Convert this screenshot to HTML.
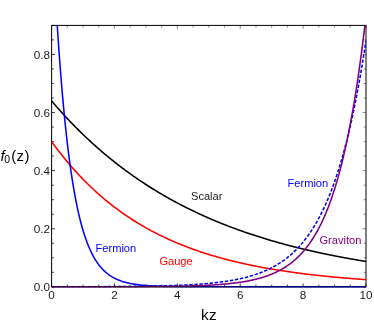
<!DOCTYPE html>
<html><head><meta charset="utf-8"><style>
html,body{margin:0;padding:0;background:#fff;}
svg{display:block;will-change:transform;}
text{font-family:"Liberation Sans",sans-serif;}
</style></head><body>
<svg width="374" height="325" viewBox="0 0 374 325">
<rect width="374" height="325" fill="#fff"/>
<defs><clipPath id="c"><rect x="51.6" y="25.4" width="314.4" height="262.20000000000005"/></clipPath></defs>
<g stroke="#000" stroke-width="0.45" fill="none">
<line x1="51.60" y1="25.4" x2="51.60" y2="28.799999999999997"/><line x1="67.32" y1="25.4" x2="67.32" y2="27.599999999999998"/><line x1="83.04" y1="25.4" x2="83.04" y2="27.599999999999998"/><line x1="98.76" y1="25.4" x2="98.76" y2="27.599999999999998"/><line x1="114.48" y1="25.4" x2="114.48" y2="28.799999999999997"/><line x1="130.20" y1="25.4" x2="130.20" y2="27.599999999999998"/><line x1="145.92" y1="25.4" x2="145.92" y2="27.599999999999998"/><line x1="161.64" y1="25.4" x2="161.64" y2="27.599999999999998"/><line x1="177.36" y1="25.4" x2="177.36" y2="28.799999999999997"/><line x1="193.08" y1="25.4" x2="193.08" y2="27.599999999999998"/><line x1="208.80" y1="25.4" x2="208.80" y2="27.599999999999998"/><line x1="224.52" y1="25.4" x2="224.52" y2="27.599999999999998"/><line x1="240.24" y1="25.4" x2="240.24" y2="28.799999999999997"/><line x1="255.96" y1="25.4" x2="255.96" y2="27.599999999999998"/><line x1="271.68" y1="25.4" x2="271.68" y2="27.599999999999998"/><line x1="287.40" y1="25.4" x2="287.40" y2="27.599999999999998"/><line x1="303.12" y1="25.4" x2="303.12" y2="28.799999999999997"/><line x1="318.84" y1="25.4" x2="318.84" y2="27.599999999999998"/><line x1="334.56" y1="25.4" x2="334.56" y2="27.599999999999998"/><line x1="350.28" y1="25.4" x2="350.28" y2="27.599999999999998"/><line x1="366.00" y1="25.4" x2="366.00" y2="28.799999999999997"/><line x1="366.0" y1="286.85" x2="362.6" y2="286.85"/><line x1="366.0" y1="272.33" x2="363.8" y2="272.33"/><line x1="366.0" y1="257.80" x2="363.8" y2="257.80"/><line x1="366.0" y1="243.28" x2="363.8" y2="243.28"/><line x1="366.0" y1="228.75" x2="362.6" y2="228.75"/><line x1="366.0" y1="214.23" x2="363.8" y2="214.23"/><line x1="366.0" y1="199.70" x2="363.8" y2="199.70"/><line x1="366.0" y1="185.18" x2="363.8" y2="185.18"/><line x1="366.0" y1="170.65" x2="362.6" y2="170.65"/><line x1="366.0" y1="156.12" x2="363.8" y2="156.12"/><line x1="366.0" y1="141.60" x2="363.8" y2="141.60"/><line x1="366.0" y1="127.07" x2="363.8" y2="127.07"/><line x1="366.0" y1="112.55" x2="362.6" y2="112.55"/><line x1="366.0" y1="98.03" x2="363.8" y2="98.03"/><line x1="366.0" y1="83.50" x2="363.8" y2="83.50"/><line x1="366.0" y1="68.97" x2="363.8" y2="68.97"/><line x1="366.0" y1="54.45" x2="362.6" y2="54.45"/><line x1="366.0" y1="39.92" x2="363.8" y2="39.92"/><line x1="366.0" y1="25.40" x2="363.8" y2="25.40"/>
</g>
<g stroke="#000" stroke-width="0.75" fill="none">
<line x1="51.60" y1="286.85" x2="51.60" y2="283.45000000000005"/><line x1="67.32" y1="286.85" x2="67.32" y2="284.65000000000003"/><line x1="83.04" y1="286.85" x2="83.04" y2="284.65000000000003"/><line x1="98.76" y1="286.85" x2="98.76" y2="284.65000000000003"/><line x1="114.48" y1="286.85" x2="114.48" y2="283.45000000000005"/><line x1="130.20" y1="286.85" x2="130.20" y2="284.65000000000003"/><line x1="145.92" y1="286.85" x2="145.92" y2="284.65000000000003"/><line x1="161.64" y1="286.85" x2="161.64" y2="284.65000000000003"/><line x1="177.36" y1="286.85" x2="177.36" y2="283.45000000000005"/><line x1="193.08" y1="286.85" x2="193.08" y2="284.65000000000003"/><line x1="208.80" y1="286.85" x2="208.80" y2="284.65000000000003"/><line x1="224.52" y1="286.85" x2="224.52" y2="284.65000000000003"/><line x1="240.24" y1="286.85" x2="240.24" y2="283.45000000000005"/><line x1="255.96" y1="286.85" x2="255.96" y2="284.65000000000003"/><line x1="271.68" y1="286.85" x2="271.68" y2="284.65000000000003"/><line x1="287.40" y1="286.85" x2="287.40" y2="284.65000000000003"/><line x1="303.12" y1="286.85" x2="303.12" y2="283.45000000000005"/><line x1="318.84" y1="286.85" x2="318.84" y2="284.65000000000003"/><line x1="334.56" y1="286.85" x2="334.56" y2="284.65000000000003"/><line x1="350.28" y1="286.85" x2="350.28" y2="284.65000000000003"/><line x1="366.00" y1="286.85" x2="366.00" y2="283.45000000000005"/><line x1="51.6" y1="286.85" x2="55.0" y2="286.85"/><line x1="51.6" y1="272.33" x2="53.800000000000004" y2="272.33"/><line x1="51.6" y1="257.80" x2="53.800000000000004" y2="257.80"/><line x1="51.6" y1="243.28" x2="53.800000000000004" y2="243.28"/><line x1="51.6" y1="228.75" x2="55.0" y2="228.75"/><line x1="51.6" y1="214.23" x2="53.800000000000004" y2="214.23"/><line x1="51.6" y1="199.70" x2="53.800000000000004" y2="199.70"/><line x1="51.6" y1="185.18" x2="53.800000000000004" y2="185.18"/><line x1="51.6" y1="170.65" x2="55.0" y2="170.65"/><line x1="51.6" y1="156.12" x2="53.800000000000004" y2="156.12"/><line x1="51.6" y1="141.60" x2="53.800000000000004" y2="141.60"/><line x1="51.6" y1="127.07" x2="53.800000000000004" y2="127.07"/><line x1="51.6" y1="112.55" x2="55.0" y2="112.55"/><line x1="51.6" y1="98.03" x2="53.800000000000004" y2="98.03"/><line x1="51.6" y1="83.50" x2="53.800000000000004" y2="83.50"/><line x1="51.6" y1="68.97" x2="53.800000000000004" y2="68.97"/><line x1="51.6" y1="54.45" x2="55.0" y2="54.45"/><line x1="51.6" y1="39.92" x2="53.800000000000004" y2="39.92"/><line x1="51.6" y1="25.40" x2="53.800000000000004" y2="25.40"/>
</g>
<rect x="51.6" y="25.4" width="314.4" height="261.45000000000005" fill="none" stroke="#000" stroke-width="1.0"/>
<g clip-path="url(#c)" fill="none" stroke-width="1.55" stroke-linejoin="round">
<path d="M51.60 100.93 L52.39 101.85 L53.17 102.77 L53.96 103.68 L54.74 104.59 L55.53 105.50 L56.32 106.40 L57.10 107.29 L57.89 108.18 L58.67 109.07 L59.46 109.95 L60.25 110.83 L61.03 111.70 L61.82 112.57 L62.60 113.44 L63.39 114.30 L64.18 115.16 L64.96 116.01 L65.75 116.86 L66.53 117.70 L67.32 118.54 L68.11 119.37 L68.89 120.20 L69.68 121.03 L70.46 121.85 L71.25 122.67 L72.04 123.49 L72.82 124.30 L73.61 125.11 L74.39 125.91 L75.18 126.71 L75.97 127.50 L76.75 128.29 L77.54 129.08 L78.32 129.86 L79.11 130.64 L79.90 131.42 L80.68 132.19 L81.47 132.96 L82.25 133.72 L83.04 134.48 L83.83 135.24 L84.61 135.99 L85.40 136.74 L86.18 137.48 L86.97 138.22 L87.76 138.96 L88.54 139.69 L89.33 140.42 L90.11 141.15 L90.90 141.87 L91.69 142.59 L92.47 143.31 L93.26 144.02 L94.04 144.73 L94.83 145.44 L95.62 146.14 L96.40 146.84 L97.19 147.53 L97.97 148.22 L98.76 148.91 L99.55 149.59 L100.33 150.28 L101.12 150.95 L101.90 151.63 L102.69 152.30 L103.48 152.97 L104.26 153.63 L105.05 154.29 L105.83 154.95 L106.62 155.60 L107.41 156.26 L108.19 156.90 L108.98 157.55 L109.76 158.19 L110.55 158.83 L111.34 159.46 L112.12 160.10 L112.91 160.73 L113.69 161.35 L114.48 161.97 L115.27 162.59 L116.05 163.21 L116.84 163.82 L117.62 164.44 L118.41 165.04 L119.20 165.65 L119.98 166.25 L120.77 166.85 L121.55 167.44 L122.34 168.04 L123.13 168.62 L123.91 169.21 L124.70 169.80 L125.48 170.38 L126.27 170.95 L127.06 171.53 L127.84 172.10 L128.63 172.67 L129.41 173.24 L130.20 173.80 L130.99 174.36 L131.77 174.92 L132.56 175.48 L133.34 176.03 L134.13 176.58 L134.92 177.13 L135.70 177.67 L136.49 178.21 L137.27 178.75 L138.06 179.29 L138.85 179.82 L139.63 180.35 L140.42 180.88 L141.20 181.41 L141.99 181.93 L142.78 182.45 L143.56 182.97 L144.35 183.48 L145.13 184.00 L145.92 184.51 L146.71 185.02 L147.49 185.52 L148.28 186.02 L149.06 186.52 L149.85 187.02 L150.64 187.52 L151.42 188.01 L152.21 188.50 L152.99 188.99 L153.78 189.48 L154.57 189.96 L155.35 190.44 L156.14 190.92 L156.92 191.39 L157.71 191.87 L158.50 192.34 L159.28 192.81 L160.07 193.27 L160.85 193.74 L161.64 194.20 L162.43 194.66 L163.21 195.12 L164.00 195.57 L164.78 196.03 L165.57 196.48 L166.36 196.93 L167.14 197.37 L167.93 197.82 L168.71 198.26 L169.50 198.70 L170.29 199.14 L171.07 199.57 L171.86 200.00 L172.64 200.43 L173.43 200.86 L174.22 201.29 L175.00 201.71 L175.79 202.14 L176.57 202.56 L177.36 202.98 L178.15 203.39 L178.93 203.81 L179.72 204.22 L180.50 204.63 L181.29 205.04 L182.08 205.44 L182.86 205.85 L183.65 206.25 L184.43 206.65 L185.22 207.05 L186.01 207.44 L186.79 207.84 L187.58 208.23 L188.36 208.62 L189.15 209.01 L189.94 209.39 L190.72 209.78 L191.51 210.16 L192.29 210.54 L193.08 210.92 L193.87 211.30 L194.65 211.67 L195.44 212.04 L196.22 212.42 L197.01 212.79 L197.80 213.15 L198.58 213.52 L199.37 213.88 L200.15 214.24 L200.94 214.60 L201.73 214.96 L202.51 215.32 L203.30 215.68 L204.08 216.03 L204.87 216.38 L205.66 216.73 L206.44 217.08 L207.23 217.42 L208.01 217.77 L208.80 218.11 L209.59 218.45 L210.37 218.79 L211.16 219.13 L211.94 219.47 L212.73 219.80 L213.52 220.13 L214.30 220.46 L215.09 220.79 L215.87 221.12 L216.66 221.45 L217.45 221.77 L218.23 222.09 L219.02 222.42 L219.80 222.74 L220.59 223.05 L221.38 223.37 L222.16 223.69 L222.95 224.00 L223.73 224.31 L224.52 224.62 L225.31 224.93 L226.09 225.24 L226.88 225.54 L227.66 225.85 L228.45 226.15 L229.24 226.45 L230.02 226.75 L230.81 227.05 L231.59 227.35 L232.38 227.64 L233.17 227.94 L233.95 228.23 L234.74 228.52 L235.52 228.81 L236.31 229.10 L237.10 229.38 L237.88 229.67 L238.67 229.95 L239.45 230.23 L240.24 230.51 L241.03 230.79 L241.81 231.07 L242.60 231.35 L243.38 231.62 L244.17 231.90 L244.96 232.17 L245.74 232.44 L246.53 232.71 L247.31 232.98 L248.10 233.25 L248.89 233.52 L249.67 233.78 L250.46 234.04 L251.24 234.31 L252.03 234.57 L252.82 234.83 L253.60 235.08 L254.39 235.34 L255.17 235.60 L255.96 235.85 L256.75 236.10 L257.53 236.36 L258.32 236.61 L259.10 236.86 L259.89 237.10 L260.68 237.35 L261.46 237.60 L262.25 237.84 L263.03 238.08 L263.82 238.33 L264.61 238.57 L265.39 238.81 L266.18 239.04 L266.96 239.28 L267.75 239.52 L268.54 239.75 L269.32 239.99 L270.11 240.22 L270.89 240.45 L271.68 240.68 L272.47 240.91 L273.25 241.14 L274.04 241.36 L274.82 241.59 L275.61 241.81 L276.40 242.04 L277.18 242.26 L277.97 242.48 L278.75 242.70 L279.54 242.92 L280.33 243.14 L281.11 243.36 L281.90 243.57 L282.68 243.79 L283.47 244.00 L284.26 244.21 L285.04 244.42 L285.83 244.64 L286.61 244.84 L287.40 245.05 L288.19 245.26 L288.97 245.47 L289.76 245.67 L290.54 245.88 L291.33 246.08 L292.12 246.28 L292.90 246.48 L293.69 246.68 L294.47 246.88 L295.26 247.08 L296.05 247.28 L296.83 247.48 L297.62 247.67 L298.40 247.87 L299.19 248.06 L299.98 248.25 L300.76 248.44 L301.55 248.63 L302.33 248.82 L303.12 249.01 L303.91 249.20 L304.69 249.39 L305.48 249.57 L306.26 249.76 L307.05 249.94 L307.84 250.12 L308.62 250.31 L309.41 250.49 L310.19 250.67 L310.98 250.85 L311.77 251.03 L312.55 251.20 L313.34 251.38 L314.12 251.56 L314.91 251.73 L315.70 251.91 L316.48 252.08 L317.27 252.25 L318.05 252.42 L318.84 252.60 L319.63 252.77 L320.41 252.93 L321.20 253.10 L321.98 253.27 L322.77 253.44 L323.56 253.60 L324.34 253.77 L325.13 253.93 L325.91 254.10 L326.70 254.26 L327.49 254.42 L328.27 254.58 L329.06 254.74 L329.84 254.90 L330.63 255.06 L331.42 255.22 L332.20 255.37 L332.99 255.53 L333.77 255.69 L334.56 255.84 L335.35 255.99 L336.13 256.15 L336.92 256.30 L337.70 256.45 L338.49 256.60 L339.28 256.75 L340.06 256.90 L340.85 257.05 L341.63 257.20 L342.42 257.34 L343.21 257.49 L343.99 257.64 L344.78 257.78 L345.56 257.93 L346.35 258.07 L347.14 258.21 L347.92 258.35 L348.71 258.50 L349.49 258.64 L350.28 258.78 L351.07 258.92 L351.85 259.05 L352.64 259.19 L353.42 259.33 L354.21 259.47 L355.00 259.60 L355.78 259.74 L356.57 259.87 L357.35 260.01 L358.14 260.14 L358.93 260.27 L359.71 260.40 L360.50 260.53 L361.28 260.67 L362.07 260.80 L362.86 260.92 L363.64 261.05 L364.43 261.18 L365.21 261.31 L366.00 261.44" stroke="#000"/>
<path d="M51.60 141.60 L52.39 142.69 L53.17 143.76 L53.96 144.83 L54.74 145.89 L55.53 146.95 L56.32 147.99 L57.10 149.03 L57.89 150.06 L58.67 151.08 L59.46 152.10 L60.25 153.10 L61.03 154.10 L61.82 155.09 L62.60 156.08 L63.39 157.05 L64.18 158.02 L64.96 158.99 L65.75 159.94 L66.53 160.89 L67.32 161.83 L68.11 162.77 L68.89 163.69 L69.68 164.61 L70.46 165.53 L71.25 166.43 L72.04 167.33 L72.82 168.23 L73.61 169.11 L74.39 169.99 L75.18 170.87 L75.97 171.73 L76.75 172.59 L77.54 173.45 L78.32 174.29 L79.11 175.13 L79.90 175.97 L80.68 176.80 L81.47 177.62 L82.25 178.44 L83.04 179.25 L83.83 180.05 L84.61 180.85 L85.40 181.64 L86.18 182.43 L86.97 183.21 L87.76 183.98 L88.54 184.75 L89.33 185.51 L90.11 186.27 L90.90 187.02 L91.69 187.77 L92.47 188.51 L93.26 189.24 L94.04 189.97 L94.83 190.70 L95.62 191.41 L96.40 192.13 L97.19 192.83 L97.97 193.54 L98.76 194.23 L99.55 194.93 L100.33 195.61 L101.12 196.30 L101.90 196.97 L102.69 197.64 L103.48 198.31 L104.26 198.97 L105.05 199.63 L105.83 200.28 L106.62 200.93 L107.41 201.57 L108.19 202.21 L108.98 202.84 L109.76 203.47 L110.55 204.09 L111.34 204.71 L112.12 205.32 L112.91 205.93 L113.69 206.54 L114.48 207.14 L115.27 207.73 L116.05 208.32 L116.84 208.91 L117.62 209.49 L118.41 210.07 L119.20 210.64 L119.98 211.21 L120.77 211.78 L121.55 212.34 L122.34 212.90 L123.13 213.45 L123.91 214.00 L124.70 214.54 L125.48 215.08 L126.27 215.62 L127.06 216.15 L127.84 216.68 L128.63 217.20 L129.41 217.72 L130.20 218.24 L130.99 218.75 L131.77 219.26 L132.56 219.77 L133.34 220.27 L134.13 220.76 L134.92 221.26 L135.70 221.75 L136.49 222.23 L137.27 222.72 L138.06 223.20 L138.85 223.67 L139.63 224.14 L140.42 224.61 L141.20 225.08 L141.99 225.54 L142.78 226.00 L143.56 226.45 L144.35 226.90 L145.13 227.35 L145.92 227.80 L146.71 228.24 L147.49 228.67 L148.28 229.11 L149.06 229.54 L149.85 229.97 L150.64 230.39 L151.42 230.82 L152.21 231.23 L152.99 231.65 L153.78 232.06 L154.57 232.47 L155.35 232.88 L156.14 233.28 L156.92 233.68 L157.71 234.08 L158.50 234.47 L159.28 234.86 L160.07 235.25 L160.85 235.64 L161.64 236.02 L162.43 236.40 L163.21 236.78 L164.00 237.15 L164.78 237.52 L165.57 237.89 L166.36 238.26 L167.14 238.62 L167.93 238.98 L168.71 239.34 L169.50 239.69 L170.29 240.05 L171.07 240.40 L171.86 240.74 L172.64 241.09 L173.43 241.43 L174.22 241.77 L175.00 242.11 L175.79 242.44 L176.57 242.77 L177.36 243.10 L178.15 243.43 L178.93 243.75 L179.72 244.07 L180.50 244.39 L181.29 244.71 L182.08 245.03 L182.86 245.34 L183.65 245.65 L184.43 245.96 L185.22 246.26 L186.01 246.57 L186.79 246.87 L187.58 247.17 L188.36 247.46 L189.15 247.76 L189.94 248.05 L190.72 248.34 L191.51 248.63 L192.29 248.91 L193.08 249.20 L193.87 249.48 L194.65 249.76 L195.44 250.03 L196.22 250.31 L197.01 250.58 L197.80 250.85 L198.58 251.12 L199.37 251.39 L200.15 251.65 L200.94 251.92 L201.73 252.18 L202.51 252.44 L203.30 252.69 L204.08 252.95 L204.87 253.20 L205.66 253.45 L206.44 253.70 L207.23 253.95 L208.01 254.20 L208.80 254.44 L209.59 254.68 L210.37 254.92 L211.16 255.16 L211.94 255.40 L212.73 255.63 L213.52 255.87 L214.30 256.10 L215.09 256.33 L215.87 256.56 L216.66 256.78 L217.45 257.01 L218.23 257.23 L219.02 257.45 L219.80 257.67 L220.59 257.89 L221.38 258.11 L222.16 258.32 L222.95 258.53 L223.73 258.74 L224.52 258.95 L225.31 259.16 L226.09 259.37 L226.88 259.58 L227.66 259.78 L228.45 259.98 L229.24 260.18 L230.02 260.38 L230.81 260.58 L231.59 260.78 L232.38 260.97 L233.17 261.16 L233.95 261.36 L234.74 261.55 L235.52 261.74 L236.31 261.92 L237.10 262.11 L237.88 262.29 L238.67 262.48 L239.45 262.66 L240.24 262.84 L241.03 263.02 L241.81 263.20 L242.60 263.37 L243.38 263.55 L244.17 263.72 L244.96 263.90 L245.74 264.07 L246.53 264.24 L247.31 264.41 L248.10 264.58 L248.89 264.74 L249.67 264.91 L250.46 265.07 L251.24 265.23 L252.03 265.40 L252.82 265.56 L253.60 265.71 L254.39 265.87 L255.17 266.03 L255.96 266.18 L256.75 266.34 L257.53 266.49 L258.32 266.64 L259.10 266.80 L259.89 266.95 L260.68 267.09 L261.46 267.24 L262.25 267.39 L263.03 267.53 L263.82 267.68 L264.61 267.82 L265.39 267.96 L266.18 268.10 L266.96 268.24 L267.75 268.38 L268.54 268.52 L269.32 268.66 L270.11 268.79 L270.89 268.93 L271.68 269.06 L272.47 269.20 L273.25 269.33 L274.04 269.46 L274.82 269.59 L275.61 269.72 L276.40 269.85 L277.18 269.97 L277.97 270.10 L278.75 270.22 L279.54 270.35 L280.33 270.47 L281.11 270.59 L281.90 270.72 L282.68 270.84 L283.47 270.96 L284.26 271.07 L285.04 271.19 L285.83 271.31 L286.61 271.43 L287.40 271.54 L288.19 271.66 L288.97 271.77 L289.76 271.88 L290.54 271.99 L291.33 272.10 L292.12 272.21 L292.90 272.32 L293.69 272.43 L294.47 272.54 L295.26 272.65 L296.05 272.75 L296.83 272.86 L297.62 272.96 L298.40 273.07 L299.19 273.17 L299.98 273.27 L300.76 273.37 L301.55 273.47 L302.33 273.57 L303.12 273.67 L303.91 273.77 L304.69 273.87 L305.48 273.97 L306.26 274.06 L307.05 274.16 L307.84 274.25 L308.62 274.35 L309.41 274.44 L310.19 274.53 L310.98 274.63 L311.77 274.72 L312.55 274.81 L313.34 274.90 L314.12 274.99 L314.91 275.08 L315.70 275.16 L316.48 275.25 L317.27 275.34 L318.05 275.42 L318.84 275.51 L319.63 275.59 L320.41 275.68 L321.20 275.76 L321.98 275.84 L322.77 275.93 L323.56 276.01 L324.34 276.09 L325.13 276.17 L325.91 276.25 L326.70 276.33 L327.49 276.41 L328.27 276.48 L329.06 276.56 L329.84 276.64 L330.63 276.72 L331.42 276.79 L332.20 276.87 L332.99 276.94 L333.77 277.01 L334.56 277.09 L335.35 277.16 L336.13 277.23 L336.92 277.31 L337.70 277.38 L338.49 277.45 L339.28 277.52 L340.06 277.59 L340.85 277.66 L341.63 277.73 L342.42 277.79 L343.21 277.86 L343.99 277.93 L344.78 278.00 L345.56 278.06 L346.35 278.13 L347.14 278.19 L347.92 278.26 L348.71 278.32 L349.49 278.38 L350.28 278.45 L351.07 278.51 L351.85 278.57 L352.64 278.64 L353.42 278.70 L354.21 278.76 L355.00 278.82 L355.78 278.88 L356.57 278.94 L357.35 279.00 L358.14 279.06 L358.93 279.11 L359.71 279.17 L360.50 279.23 L361.28 279.29 L362.07 279.34 L362.86 279.40 L363.64 279.45 L364.43 279.51 L365.21 279.56 L366.00 279.62" stroke="#f00"/>
<path d="M51.60 -79.18 L52.39 -62.46 L53.17 -46.51 L53.96 -31.28 L54.74 -16.75 L55.53 -2.88 L56.32 10.35 L57.10 22.98 L57.89 35.03 L58.67 46.53 L59.46 57.51 L60.25 67.98 L61.03 77.98 L61.82 87.52 L62.60 96.62 L63.39 105.31 L64.18 113.60 L64.96 121.52 L65.75 129.07 L66.53 136.27 L67.32 143.15 L68.11 149.72 L68.89 155.98 L69.68 161.96 L70.46 167.66 L71.25 173.10 L72.04 178.30 L72.82 183.26 L73.61 187.99 L74.39 192.50 L75.18 196.81 L75.97 200.93 L76.75 204.85 L77.54 208.60 L78.32 212.17 L79.11 215.58 L79.90 218.84 L80.68 221.94 L81.47 224.91 L82.25 227.74 L83.04 230.44 L83.83 233.01 L84.61 235.47 L85.40 237.82 L86.18 240.06 L86.97 242.20 L87.76 244.23 L88.54 246.18 L89.33 248.04 L90.11 249.81 L90.90 251.50 L91.69 253.12 L92.47 254.66 L93.26 256.13 L94.04 257.53 L94.83 258.87 L95.62 260.15 L96.40 261.37 L97.19 262.53 L97.97 263.64 L98.76 264.70 L99.55 265.71 L100.33 266.68 L101.12 267.60 L101.90 268.48 L102.69 269.32 L103.48 270.12 L104.26 270.88 L105.05 271.61 L105.83 272.31 L106.62 272.97 L107.41 273.61 L108.19 274.21 L108.98 274.79 L109.76 275.34 L110.55 275.87 L111.34 276.37 L112.12 276.85 L112.91 277.30 L113.69 277.74 L114.48 278.16 L115.27 278.55 L116.05 278.93 L116.84 279.29 L117.62 279.64 L118.41 279.97 L119.20 280.28 L119.98 280.58 L120.77 280.87 L121.55 281.14 L122.34 281.40 L123.13 281.65 L123.91 281.89 L124.70 282.12 L125.48 282.33 L126.27 282.54 L127.06 282.73 L127.84 282.92 L128.63 283.10 L129.41 283.27 L130.20 283.44 L130.99 283.59 L131.77 283.74 L132.56 283.88 L133.34 284.02 L134.13 284.15 L134.92 284.27 L135.70 284.39 L136.49 284.50 L137.27 284.61 L138.06 284.71 L138.85 284.81 L139.63 284.90 L140.42 284.99 L141.20 285.08 L141.99 285.16 L142.78 285.23 L143.56 285.31 L144.35 285.38 L145.13 285.45 L145.92 285.51 L146.71 285.57 L147.49 285.63 L148.28 285.69 L149.06 285.74 L149.85 285.79 L150.64 285.84 L151.42 285.88 L152.21 285.93 L152.99 285.97 L153.78 286.01 L154.57 286.05 L155.35 286.09 L156.14 286.12 L156.92 286.15 L157.71 286.19 L158.50 286.22 L159.28 286.24 L160.07 286.27 L160.85 286.30 L161.64 286.32 L162.43 286.35 L163.21 286.37 L164.00 286.39 L164.78 286.41 L165.57 286.43 L166.36 286.45 L167.14 286.47 L167.93 286.49 L168.71 286.50 L169.50 286.52 L170.29 286.54 L171.07 286.55 L171.86 286.56 L172.64 286.58 L173.43 286.59 L174.22 286.60 L175.00 286.61 L175.79 286.62 L176.57 286.63 L177.36 286.64 L178.15 286.65 L178.93 286.66 L179.72 286.67 L180.50 286.68 L181.29 286.69 L182.08 286.69 L182.86 286.70 L183.65 286.71 L184.43 286.71 L185.22 286.72 L186.01 286.73 L186.79 286.73 L187.58 286.74 L188.36 286.74 L189.15 286.75 L189.94 286.75 L190.72 286.76 L191.51 286.76 L192.29 286.77 L193.08 286.77 L193.87 286.77 L194.65 286.78 L195.44 286.78 L196.22 286.78 L197.01 286.79 L197.80 286.79 L198.58 286.79 L199.37 286.79 L200.15 286.80 L200.94 286.80 L201.73 286.80 L202.51 286.80 L203.30 286.81 L204.08 286.81 L204.87 286.81 L205.66 286.81 L206.44 286.81 L207.23 286.82 L208.01 286.82 L208.80 286.82 L209.59 286.82 L210.37 286.82 L211.16 286.82 L211.94 286.82 L212.73 286.82 L213.52 286.83 L214.30 286.83 L215.09 286.83 L215.87 286.83 L216.66 286.83 L217.45 286.83 L218.23 286.83 L219.02 286.83 L219.80 286.83 L220.59 286.83 L221.38 286.83 L222.16 286.84 L222.95 286.84 L223.73 286.84 L224.52 286.84 L225.31 286.84 L226.09 286.84 L226.88 286.84 L227.66 286.84 L228.45 286.84 L229.24 286.84 L230.02 286.84 L230.81 286.84 L231.59 286.84 L232.38 286.84 L233.17 286.84 L233.95 286.84 L234.74 286.84 L235.52 286.84 L236.31 286.84 L237.10 286.84 L237.88 286.84 L238.67 286.84 L239.45 286.84 L240.24 286.85 L241.03 286.85 L241.81 286.85 L242.60 286.85 L243.38 286.85 L244.17 286.85 L244.96 286.85 L245.74 286.85 L246.53 286.85 L247.31 286.85 L248.10 286.85 L248.89 286.85 L249.67 286.85 L250.46 286.85 L251.24 286.85 L252.03 286.85 L252.82 286.85 L253.60 286.85 L254.39 286.85 L255.17 286.85 L255.96 286.85 L256.75 286.85 L257.53 286.85 L258.32 286.85 L259.10 286.85 L259.89 286.85 L260.68 286.85 L261.46 286.85 L262.25 286.85 L263.03 286.85 L263.82 286.85 L264.61 286.85 L265.39 286.85 L266.18 286.85 L266.96 286.85 L267.75 286.85 L268.54 286.85 L269.32 286.85 L270.11 286.85 L270.89 286.85 L271.68 286.85 L272.47 286.85 L273.25 286.85 L274.04 286.85 L274.82 286.85 L275.61 286.85 L276.40 286.85 L277.18 286.85 L277.97 286.85 L278.75 286.85 L279.54 286.85 L280.33 286.85 L281.11 286.85 L281.90 286.85 L282.68 286.85 L283.47 286.85 L284.26 286.85 L285.04 286.85 L285.83 286.85 L286.61 286.85 L287.40 286.85 L288.19 286.85 L288.97 286.85 L289.76 286.85 L290.54 286.85 L291.33 286.85 L292.12 286.85 L292.90 286.85 L293.69 286.85 L294.47 286.85 L295.26 286.85 L296.05 286.85 L296.83 286.85 L297.62 286.85 L298.40 286.85 L299.19 286.85 L299.98 286.85 L300.76 286.85 L301.55 286.85 L302.33 286.85 L303.12 286.85 L303.91 286.85 L304.69 286.85 L305.48 286.85 L306.26 286.85 L307.05 286.85 L307.84 286.85 L308.62 286.85 L309.41 286.85 L310.19 286.85 L310.98 286.85 L311.77 286.85 L312.55 286.85 L313.34 286.85 L314.12 286.85 L314.91 286.85 L315.70 286.85 L316.48 286.85 L317.27 286.85 L318.05 286.85 L318.84 286.85 L319.63 286.85 L320.41 286.85 L321.20 286.85 L321.98 286.85 L322.77 286.85 L323.56 286.85 L324.34 286.85 L325.13 286.85 L325.91 286.85 L326.70 286.85 L327.49 286.85 L328.27 286.85 L329.06 286.85 L329.84 286.85 L330.63 286.85 L331.42 286.85 L332.20 286.85 L332.99 286.85 L333.77 286.85 L334.56 286.85 L335.35 286.85 L336.13 286.85 L336.92 286.85 L337.70 286.85 L338.49 286.85 L339.28 286.85 L340.06 286.85 L340.85 286.85 L341.63 286.85 L342.42 286.85 L343.21 286.85 L343.99 286.85 L344.78 286.85 L345.56 286.85 L346.35 286.85 L347.14 286.85 L347.92 286.85 L348.71 286.85 L349.49 286.85 L350.28 286.85 L351.07 286.85 L351.85 286.85 L352.64 286.85 L353.42 286.85 L354.21 286.85 L355.00 286.85 L355.78 286.85 L356.57 286.85 L357.35 286.85 L358.14 286.85 L358.93 286.85 L359.71 286.85 L360.50 286.85 L361.28 286.85 L362.07 286.85 L362.86 286.85 L363.64 286.85 L364.43 286.85 L365.21 286.85 L366.00 286.85" stroke="#00f"/>
<path d="M51.60 286.80 L52.39 286.80 L53.17 286.80 L53.96 286.80 L54.74 286.80 L55.53 286.80 L56.32 286.79 L57.10 286.79 L57.89 286.79 L58.67 286.79 L59.46 286.79 L60.25 286.79 L61.03 286.79 L61.82 286.79 L62.60 286.78 L63.39 286.78 L64.18 286.78 L64.96 286.78 L65.75 286.78 L66.53 286.78 L67.32 286.77 L68.11 286.77 L68.89 286.77 L69.68 286.77 L70.46 286.77 L71.25 286.77 L72.04 286.76 L72.82 286.76 L73.61 286.76 L74.39 286.76 L75.18 286.76 L75.97 286.75 L76.75 286.75 L77.54 286.75 L78.32 286.75 L79.11 286.75 L79.90 286.74 L80.68 286.74 L81.47 286.74 L82.25 286.74 L83.04 286.73 L83.83 286.73 L84.61 286.73 L85.40 286.73 L86.18 286.72 L86.97 286.72 L87.76 286.72 L88.54 286.72 L89.33 286.71 L90.11 286.71 L90.90 286.71 L91.69 286.70 L92.47 286.70 L93.26 286.70 L94.04 286.69 L94.83 286.69 L95.62 286.69 L96.40 286.68 L97.19 286.68 L97.97 286.68 L98.76 286.67 L99.55 286.67 L100.33 286.67 L101.12 286.66 L101.90 286.66 L102.69 286.65 L103.48 286.65 L104.26 286.65 L105.05 286.64 L105.83 286.64 L106.62 286.63 L107.41 286.63 L108.19 286.62 L108.98 286.62 L109.76 286.61 L110.55 286.61 L111.34 286.60 L112.12 286.60 L112.91 286.59 L113.69 286.59 L114.48 286.58 L115.27 286.57 L116.05 286.57 L116.84 286.56 L117.62 286.56 L118.41 286.55 L119.20 286.54 L119.98 286.54 L120.77 286.53 L121.55 286.52 L122.34 286.52 L123.13 286.51 L123.91 286.50 L124.70 286.49 L125.48 286.49 L126.27 286.48 L127.06 286.47 L127.84 286.46 L128.63 286.45 L129.41 286.45 L130.20 286.44 L130.99 286.43 L131.77 286.42 L132.56 286.41 L133.34 286.40 L134.13 286.39 L134.92 286.38 L135.70 286.37 L136.49 286.36 L137.27 286.35 L138.06 286.34 L138.85 286.33 L139.63 286.32 L140.42 286.30 L141.20 286.29 L141.99 286.28 L142.78 286.27 L143.56 286.26 L144.35 286.24 L145.13 286.23 L145.92 286.22 L146.71 286.20 L147.49 286.19 L148.28 286.18 L149.06 286.16 L149.85 286.15 L150.64 286.13 L151.42 286.12 L152.21 286.10 L152.99 286.08 L153.78 286.07 L154.57 286.05 L155.35 286.03 L156.14 286.02 L156.92 286.00 L157.71 285.98 L158.50 285.96 L159.28 285.94 L160.07 285.92 L160.85 285.90 L161.64 285.88 L162.43 285.86 L163.21 285.84 L164.00 285.82 L164.78 285.79 L165.57 285.77 L166.36 285.75 L167.14 285.72 L167.93 285.70 L168.71 285.68 L169.50 285.65 L170.29 285.62 L171.07 285.60 L171.86 285.57 L172.64 285.54 L173.43 285.52 L174.22 285.49 L175.00 285.46 L175.79 285.43 L176.57 285.40 L177.36 285.37 L178.15 285.33 L178.93 285.30 L179.72 285.27 L180.50 285.23 L181.29 285.20 L182.08 285.16 L182.86 285.13 L183.65 285.09 L184.43 285.05 L185.22 285.01 L186.01 284.97 L186.79 284.93 L187.58 284.89 L188.36 284.85 L189.15 284.81 L189.94 284.76 L190.72 284.72 L191.51 284.67 L192.29 284.63 L193.08 284.58 L193.87 284.53 L194.65 284.48 L195.44 284.43 L196.22 284.38 L197.01 284.32 L197.80 284.27 L198.58 284.21 L199.37 284.16 L200.15 284.10 L200.94 284.04 L201.73 283.98 L202.51 283.92 L203.30 283.85 L204.08 283.79 L204.87 283.72 L205.66 283.66 L206.44 283.59 L207.23 283.52 L208.01 283.44 L208.80 283.37 L209.59 283.30 L210.37 283.22 L211.16 283.14 L211.94 283.06 L212.73 282.98 L213.52 282.90 L214.30 282.81 L215.09 282.72 L215.87 282.64 L216.66 282.55 L217.45 282.45 L218.23 282.36 L219.02 282.26 L219.80 282.16 L220.59 282.06 L221.38 281.96 L222.16 281.85 L222.95 281.75 L223.73 281.64 L224.52 281.52 L225.31 281.41 L226.09 281.29 L226.88 281.17 L227.66 281.05 L228.45 280.92 L229.24 280.80 L230.02 280.67 L230.81 280.53 L231.59 280.40 L232.38 280.26 L233.17 280.12 L233.95 279.97 L234.74 279.82 L235.52 279.67 L236.31 279.52 L237.10 279.36 L237.88 279.20 L238.67 279.03 L239.45 278.87 L240.24 278.69 L241.03 278.52 L241.81 278.34 L242.60 278.16 L243.38 277.97 L244.17 277.78 L244.96 277.58 L245.74 277.38 L246.53 277.18 L247.31 276.97 L248.10 276.76 L248.89 276.54 L249.67 276.32 L250.46 276.09 L251.24 275.86 L252.03 275.62 L252.82 275.38 L253.60 275.14 L254.39 274.88 L255.17 274.63 L255.96 274.36 L256.75 274.09 L257.53 273.82 L258.32 273.54 L259.10 273.25 L259.89 272.96 L260.68 272.66 L261.46 272.35 L262.25 272.04 L263.03 271.72 L263.82 271.40 L264.61 271.07 L265.39 270.73 L266.18 270.38 L266.96 270.02 L267.75 269.66 L268.54 269.29 L269.32 268.91 L270.11 268.53 L270.89 268.13 L271.68 267.73 L272.47 267.32 L273.25 266.90 L274.04 266.47 L274.82 266.03 L275.61 265.58 L276.40 265.12 L277.18 264.66 L277.97 264.18 L278.75 263.69 L279.54 263.19 L280.33 262.68 L281.11 262.16 L281.90 261.63 L282.68 261.09 L283.47 260.53 L284.26 259.97 L285.04 259.39 L285.83 258.80 L286.61 258.19 L287.40 257.58 L288.19 256.94 L288.97 256.30 L289.76 255.64 L290.54 254.97 L291.33 254.29 L292.12 253.58 L292.90 252.87 L293.69 252.14 L294.47 251.39 L295.26 250.63 L296.05 249.85 L296.83 249.05 L297.62 248.24 L298.40 247.40 L299.19 246.55 L299.98 245.69 L300.76 244.80 L301.55 243.90 L302.33 242.97 L303.12 242.03 L303.91 241.06 L304.69 240.08 L305.48 239.07 L306.26 238.04 L307.05 236.99 L307.84 235.92 L308.62 234.82 L309.41 233.70 L310.19 232.56 L310.98 231.39 L311.77 230.19 L312.55 228.97 L313.34 227.73 L314.12 226.45 L314.91 225.15 L315.70 223.83 L316.48 222.47 L317.27 221.08 L318.05 219.67 L318.84 218.22 L319.63 216.74 L320.41 215.23 L321.20 213.69 L321.98 212.12 L322.77 210.51 L323.56 208.86 L324.34 207.19 L325.13 205.47 L325.91 203.72 L326.70 201.93 L327.49 200.10 L328.27 198.23 L329.06 196.32 L329.84 194.38 L330.63 192.39 L331.42 190.35 L332.20 188.27 L332.99 186.15 L333.77 183.98 L334.56 181.77 L335.35 179.51 L336.13 177.20 L336.92 174.84 L337.70 172.42 L338.49 169.96 L339.28 167.44 L340.06 164.87 L340.85 162.25 L341.63 159.56 L342.42 156.82 L343.21 154.03 L343.99 151.17 L344.78 148.24 L345.56 145.26 L346.35 142.21 L347.14 139.10 L347.92 135.92 L348.71 132.67 L349.49 129.35 L350.28 125.96 L351.07 122.49 L351.85 118.96 L352.64 115.34 L353.42 111.65 L354.21 107.88 L355.00 104.03 L355.78 100.09 L356.57 96.07 L357.35 91.96 L358.14 87.77 L358.93 83.48 L359.71 79.10 L360.50 74.63 L361.28 70.06 L362.07 65.39 L362.86 60.63 L363.64 55.75 L364.43 50.78 L365.21 45.70 L366.00 40.51" stroke="#00f" stroke-dasharray="3.4 1.7"/>
<path d="M51.60 286.84 L52.39 286.84 L53.17 286.84 L53.96 286.84 L54.74 286.84 L55.53 286.84 L56.32 286.84 L57.10 286.84 L57.89 286.84 L58.67 286.84 L59.46 286.84 L60.25 286.84 L61.03 286.84 L61.82 286.84 L62.60 286.84 L63.39 286.84 L64.18 286.83 L64.96 286.83 L65.75 286.83 L66.53 286.83 L67.32 286.83 L68.11 286.83 L68.89 286.83 L69.68 286.83 L70.46 286.83 L71.25 286.83 L72.04 286.83 L72.82 286.83 L73.61 286.83 L74.39 286.83 L75.18 286.83 L75.97 286.83 L76.75 286.83 L77.54 286.83 L78.32 286.83 L79.11 286.83 L79.90 286.82 L80.68 286.82 L81.47 286.82 L82.25 286.82 L83.04 286.82 L83.83 286.82 L84.61 286.82 L85.40 286.82 L86.18 286.82 L86.97 286.82 L87.76 286.82 L88.54 286.82 L89.33 286.82 L90.11 286.81 L90.90 286.81 L91.69 286.81 L92.47 286.81 L93.26 286.81 L94.04 286.81 L94.83 286.81 L95.62 286.81 L96.40 286.81 L97.19 286.81 L97.97 286.80 L98.76 286.80 L99.55 286.80 L100.33 286.80 L101.12 286.80 L101.90 286.80 L102.69 286.80 L103.48 286.80 L104.26 286.79 L105.05 286.79 L105.83 286.79 L106.62 286.79 L107.41 286.79 L108.19 286.79 L108.98 286.79 L109.76 286.78 L110.55 286.78 L111.34 286.78 L112.12 286.78 L112.91 286.78 L113.69 286.77 L114.48 286.77 L115.27 286.77 L116.05 286.77 L116.84 286.77 L117.62 286.76 L118.41 286.76 L119.20 286.76 L119.98 286.76 L120.77 286.76 L121.55 286.75 L122.34 286.75 L123.13 286.75 L123.91 286.74 L124.70 286.74 L125.48 286.74 L126.27 286.74 L127.06 286.73 L127.84 286.73 L128.63 286.73 L129.41 286.72 L130.20 286.72 L130.99 286.72 L131.77 286.71 L132.56 286.71 L133.34 286.71 L134.13 286.70 L134.92 286.70 L135.70 286.70 L136.49 286.69 L137.27 286.69 L138.06 286.68 L138.85 286.68 L139.63 286.67 L140.42 286.67 L141.20 286.67 L141.99 286.66 L142.78 286.66 L143.56 286.65 L144.35 286.65 L145.13 286.64 L145.92 286.64 L146.71 286.63 L147.49 286.62 L148.28 286.62 L149.06 286.61 L149.85 286.61 L150.64 286.60 L151.42 286.59 L152.21 286.59 L152.99 286.58 L153.78 286.57 L154.57 286.57 L155.35 286.56 L156.14 286.55 L156.92 286.54 L157.71 286.54 L158.50 286.53 L159.28 286.52 L160.07 286.51 L160.85 286.50 L161.64 286.49 L162.43 286.48 L163.21 286.47 L164.00 286.46 L164.78 286.45 L165.57 286.44 L166.36 286.43 L167.14 286.42 L167.93 286.41 L168.71 286.40 L169.50 286.39 L170.29 286.38 L171.07 286.36 L171.86 286.35 L172.64 286.34 L173.43 286.33 L174.22 286.31 L175.00 286.30 L175.79 286.28 L176.57 286.27 L177.36 286.25 L178.15 286.24 L178.93 286.22 L179.72 286.21 L180.50 286.19 L181.29 286.17 L182.08 286.16 L182.86 286.14 L183.65 286.12 L184.43 286.10 L185.22 286.08 L186.01 286.06 L186.79 286.04 L187.58 286.02 L188.36 286.00 L189.15 285.98 L189.94 285.95 L190.72 285.93 L191.51 285.91 L192.29 285.88 L193.08 285.86 L193.87 285.83 L194.65 285.81 L195.44 285.78 L196.22 285.75 L197.01 285.72 L197.80 285.69 L198.58 285.66 L199.37 285.63 L200.15 285.60 L200.94 285.57 L201.73 285.54 L202.51 285.50 L203.30 285.47 L204.08 285.43 L204.87 285.40 L205.66 285.36 L206.44 285.32 L207.23 285.28 L208.01 285.24 L208.80 285.20 L209.59 285.16 L210.37 285.11 L211.16 285.07 L211.94 285.02 L212.73 284.97 L213.52 284.92 L214.30 284.88 L215.09 284.82 L215.87 284.77 L216.66 284.72 L217.45 284.66 L218.23 284.61 L219.02 284.55 L219.80 284.49 L220.59 284.43 L221.38 284.37 L222.16 284.30 L222.95 284.24 L223.73 284.17 L224.52 284.10 L225.31 284.03 L226.09 283.96 L226.88 283.88 L227.66 283.80 L228.45 283.72 L229.24 283.64 L230.02 283.56 L230.81 283.48 L231.59 283.39 L232.38 283.30 L233.17 283.21 L233.95 283.11 L234.74 283.02 L235.52 282.92 L236.31 282.82 L237.10 282.71 L237.88 282.61 L238.67 282.50 L239.45 282.38 L240.24 282.27 L241.03 282.15 L241.81 282.03 L242.60 281.90 L243.38 281.78 L244.17 281.65 L244.96 281.51 L245.74 281.37 L246.53 281.23 L247.31 281.09 L248.10 280.94 L248.89 280.79 L249.67 280.63 L250.46 280.47 L251.24 280.30 L252.03 280.13 L252.82 279.96 L253.60 279.78 L254.39 279.60 L255.17 279.41 L255.96 279.22 L256.75 279.02 L257.53 278.82 L258.32 278.61 L259.10 278.40 L259.89 278.18 L260.68 277.96 L261.46 277.73 L262.25 277.49 L263.03 277.25 L263.82 277.01 L264.61 276.75 L265.39 276.49 L266.18 276.22 L266.96 275.95 L267.75 275.67 L268.54 275.38 L269.32 275.08 L270.11 274.78 L270.89 274.47 L271.68 274.15 L272.47 273.82 L273.25 273.48 L274.04 273.14 L274.82 272.78 L275.61 272.42 L276.40 272.05 L277.18 271.66 L277.97 271.27 L278.75 270.87 L279.54 270.46 L280.33 270.03 L281.11 269.60 L281.90 269.15 L282.68 268.70 L283.47 268.23 L284.26 267.75 L285.04 267.25 L285.83 266.75 L286.61 266.23 L287.40 265.69 L288.19 265.15 L288.97 264.59 L289.76 264.01 L290.54 263.42 L291.33 262.82 L292.12 262.20 L292.90 261.56 L293.69 260.91 L294.47 260.24 L295.26 259.55 L296.05 258.84 L296.83 258.12 L297.62 257.38 L298.40 256.62 L299.19 255.84 L299.98 255.03 L300.76 254.21 L301.55 253.37 L302.33 252.51 L303.12 251.62 L303.91 250.71 L304.69 249.77 L305.48 248.82 L306.26 247.84 L307.05 246.83 L307.84 245.79 L308.62 244.73 L309.41 243.65 L310.19 242.53 L310.98 241.38 L311.77 240.21 L312.55 239.01 L313.34 237.77 L314.12 236.50 L314.91 235.20 L315.70 233.87 L316.48 232.50 L317.27 231.10 L318.05 229.66 L318.84 228.18 L319.63 226.66 L320.41 225.11 L321.20 223.51 L321.98 221.88 L322.77 220.20 L323.56 218.48 L324.34 216.71 L325.13 214.90 L325.91 213.04 L326.70 211.14 L327.49 209.18 L328.27 207.18 L329.06 205.12 L329.84 203.01 L330.63 200.84 L331.42 198.62 L332.20 196.34 L332.99 194.00 L333.77 191.61 L334.56 189.15 L335.35 186.62 L336.13 184.03 L336.92 181.38 L337.70 178.65 L338.49 175.86 L339.28 172.99 L340.06 170.05 L340.85 167.04 L341.63 163.94 L342.42 160.77 L343.21 157.51 L343.99 154.17 L344.78 150.74 L345.56 147.23 L346.35 143.62 L347.14 139.92 L347.92 136.13 L348.71 132.23 L349.49 128.24 L350.28 124.14 L351.07 119.94 L351.85 115.63 L352.64 111.21 L353.42 106.67 L354.21 102.02 L355.00 97.24 L355.78 92.35 L356.57 87.32 L357.35 82.17 L358.14 76.88 L358.93 71.46 L359.71 65.90 L360.50 60.19 L361.28 54.34 L362.07 48.33 L362.86 42.17 L363.64 35.85 L364.43 29.37 L365.21 22.72 L366.00 15.90" stroke="#800080"/>
</g>
<line x1="51.6" y1="286.85" x2="366.0" y2="286.85" stroke="#000" stroke-opacity="0.45" stroke-width="1.5"/>
<g font-size="11.7px" fill="#1c1c1c"><text x="51.60" y="299.3" text-anchor="middle">0</text><text x="114.48" y="299.3" text-anchor="middle">2</text><text x="177.36" y="299.3" text-anchor="middle">4</text><text x="240.24" y="299.3" text-anchor="middle">6</text><text x="303.12" y="299.3" text-anchor="middle">8</text><text x="366.00" y="299.3" text-anchor="middle">10</text><text x="50.0" y="291.00" text-anchor="end">0.0</text><text x="50.0" y="232.90" text-anchor="end">0.2</text><text x="50.0" y="174.80" text-anchor="end">0.4</text><text x="50.0" y="116.70" text-anchor="end">0.6</text><text x="50.0" y="58.60" text-anchor="end">0.8</text></g>
<g font-size="11.1px">
<text x="191" y="199.6" fill="#1c1c1c">Scalar</text>
<text x="95.5" y="251.7" fill="#00f">Fermion</text>
<text x="159.4" y="264.7" fill="#f00">Gauge</text>
<text x="287.5" y="186.7" fill="#00f">Fermion</text>
<text x="319.4" y="244.1" fill="#800080">Graviton</text>
</g>
<text x="201" y="319.9" font-size="15.3px" letter-spacing="0.4" fill="#000">kz</text>
<g font-size="14.9px" fill="#000">
<text x="0.5" y="160.9" font-size="15.2px" font-style="italic">f</text>
<text x="4.2" y="162.7" font-size="10.4px">0</text>
<text x="11.3" y="160.9">(</text>
<text x="16.4" y="160.9">z</text>
<text x="24.5" y="160.9">)</text>
</g>
</svg>
</body></html>
